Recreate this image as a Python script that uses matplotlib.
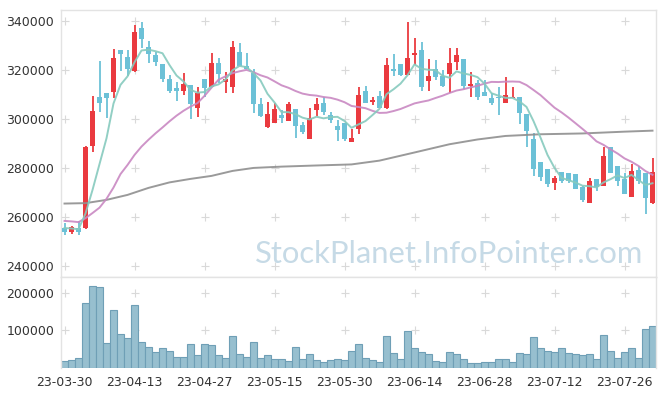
import matplotlib
matplotlib.use("Agg")
import matplotlib.pyplot as plt
import numpy as np

# ---------------- data ----------------
tick_idx = [0, 10, 20, 30, 40, 50, 60, 70, 80]
tick_labels = ["23-03-30", "23-04-13", "23-04-27", "23-05-15", "23-05-30",
               "23-06-14", "23-06-28", "23-07-12", "23-07-26"]

opens = [255400, 253800, 255400, 255700, 289100, 308900, 310400, 311100, 328100, 325200,
         319600, 336900, 329400, 325900, 322200, 316100, 312600, 311400, 313800, 304600,
         316300, 313100, 322700, 315200, 313100, 327300, 321600, 318800, 306100, 296800,
         298500, 301600, 299300, 304000, 297500, 291800, 303600, 306600, 301600, 297100,
         298500, 290700, 295800, 311400, 306800, 309500, 304600, 320300, 322400, 317900,
         326000, 328100, 315600, 320200, 317500, 318300, 323300, 324400, 313400, 314500,
         310800, 308400, 309100, 306600, 308400, 308800, 302000, 291700, 282300, 279500,
         274000, 278300, 278100, 277600, 272300, 265900, 275400, 272700, 288400, 280800,
         275400, 268300, 279000, 277900, 265900]
highs = [257500, 256400, 258400, 289000, 309300, 323600, 310600, 328500, 328100, 328100,
         338300, 339400, 331700, 327100, 322400, 317900, 315200, 318600, 313800, 313100,
         316300, 326700, 324700, 319200, 331700, 330800, 326700, 320200, 308400, 307000,
         306400, 303600, 306800, 304000, 298900, 304300, 308400, 309100, 302900, 299600,
         298500, 295800, 312900, 313400, 309100, 311400, 324700, 326300, 322400, 339400,
         332800, 331500, 324300, 324000, 319900, 328800, 329000, 324400, 319000, 315900,
         315900, 310400, 313100, 317000, 312900, 308800, 302000, 294100, 282300, 279500,
         276800, 278300, 278100, 277600, 272700, 275800, 275400, 288400, 288400, 280800,
         277900, 281800, 280800, 277900, 284000]
lows = [252700, 253000, 252700, 255000, 286600, 302900, 300300, 308600, 319500, 317500,
        319200, 328800, 322700, 321600, 314900, 310400, 307400, 309700, 299800, 300700,
        308800, 313100, 314500, 310700, 310400, 321600, 320200, 302500, 300700, 296200,
        298200, 298200, 299300, 292100, 293900, 291800, 301300, 301600, 298200, 291100,
        291000, 290700, 293900, 306400, 305700, 304600, 304000, 317600, 317500, 317900,
        322000, 311400, 311400, 315800, 313100, 310400, 319900, 312200, 309100, 307700,
        309300, 305700, 301600, 306600, 308400, 297900, 288700, 276800, 274800, 272400,
        271000, 274000, 273800, 271300, 266300, 265800, 270600, 272700, 277900, 272700,
        269400, 268300, 273500, 261300, 265300]
closes = [253800, 256000, 253700, 288400, 303100, 306600, 308600, 324700, 326400, 320300,
          335400, 332700, 326300, 323300, 316100, 311400, 311400, 314200, 306100, 310400,
          312700, 322700, 318400, 316100, 329200, 321600, 320200, 306100, 301200, 302000,
          304000, 300500, 306000, 297200, 294800, 300300, 306100, 302700, 299600, 295500,
          291800, 292200, 309700, 306400, 307700, 304600, 322000, 319600, 317900, 324900,
          326700, 313100, 317500, 317200, 313400, 322700, 326000, 313400, 314200, 308800,
          309500, 306400, 308400, 309700, 308800, 302300, 295200, 279500, 276100, 273400,
          275900, 274800, 274800, 271300, 267000, 274800, 272400, 284900, 277900, 274800,
          269400, 278800, 274500, 267800, 278300]
volumes = [18400, 21000, 26300, 171800, 217800, 215200, 66200, 153200, 90200, 79500,
           167300, 68900, 54800, 42300, 52100, 44900, 28200, 28200, 63600, 34300,
           63600, 60900, 34300, 26300, 84800, 37000, 28200, 68900, 26300, 33500,
           23700, 23700, 18400, 54800, 23700, 36200, 21000, 15700, 21000, 22900,
           20200, 44100, 62700, 25500, 20200, 14900, 84000, 38800, 22900, 97300,
           52100, 41500, 36200, 17600, 14900, 41500, 36200, 22900, 12200, 12200,
           14900, 14900, 22900, 22900, 14900, 38800, 36200, 81400, 52100, 44100,
           41500, 52100, 38800, 36200, 33500, 36200, 22900, 86700, 44100, 25500,
           41500, 52100, 25500, 102700, 110600]
ma5 = [255500, 255300, 255000, 261400,
       271000, 281560, 292080, 306280, 313880, 317320, 323080, 327900, 328220, 327600,
       326760, 321960, 317700, 315280, 311840, 310700, 310960, 313220, 314060, 316060,
       319820, 321600, 321100, 318640, 315660, 310220, 306700, 302760, 302740, 301940,
       300500, 299760, 300880, 300220, 300700, 300840, 299140, 296360, 297760, 299120,
       301560, 304120, 310080, 312060, 314360, 317800, 322220, 320440, 320020, 319880,
       317580, 316780, 319360, 318540, 317940, 317020, 314380, 310460, 309460, 308560,
       308560, 307120, 304880, 299100, 292380, 285300, 280020, 275940, 275000, 274040,
       272760, 272540, 272060, 274080, 275400, 276960, 275880, 277160, 275080, 273060,
       273760]
ma20 = [258400, 258200, 257900, 259500, 261600, 263800, 267400, 272000, 277500, 281200,
        285300, 288700, 291500, 294100, 296500, 299000, 301300, 303300, 305000,
        306445, 309390, 312725, 315960, 317345, 318650, 319400, 319980, 319050, 317790,
        316875, 315305, 313695, 312680, 311375, 310310, 309755, 309490, 308915, 308590,
        307845, 306800, 305275, 304840, 304355, 303280, 302430, 302520, 303195, 304030,
        305175, 306310, 306940, 307515, 308515, 309445, 310565, 311560, 312095, 312825,
        313490, 314375, 315085, 315020, 315185, 315240, 315125, 313785, 311780, 309690,
        307115, 304575, 302660, 300525, 298230, 295910, 293515, 290835, 289410, 287595,
        285895, 283890, 282510, 280815, 278720, 277195]
ma_long_idx = [0, 3, 6, 9, 12, 15, 18, 21, 24, 27, 31, 36, 41, 45, 50, 55, 59, 63, 68, 74, 80, 84]
ma_long = [265470, 265640, 266970, 269000, 271860, 274100, 275530, 276750, 278780, 280000,
           280530, 281000, 281430, 282980, 286300, 289660, 291600, 293040, 293730, 294060,
           294790, 295200]

main_yticks = [240000, 260000, 280000, 300000, 320000, 340000]
vol_yticks = [100000, 200000]

# ---------------- styling ----------------
RED = "#ea3a3f"
BLUE = "#6cc1d7"
TEAL = "#86cabe"
PINK = "#c988c2"
GRAY = "#8f8f8f"
FRAME = "#e3e3e3"
CROSS = "#d9d9d9"
TXT = "#333333"

W, H = 665, 396
fig = plt.figure(figsize=(W / 100, H / 100), dpi=100)
L, R = 61, 656
TOP, MID, BOT = 10, 277.3, 367.5
ax = fig.add_axes([L / W, 1 - MID / H, (R - L) / W, (MID - TOP) / H])
axv = fig.add_axes([L / W, 1 - BOT / H, (R - L) / W, (BOT - MID) / H], sharex=ax)

o = np.array(opens, float)
h = np.array(highs, float)
lo = np.array(lows, float)
c = np.array(closes, float)
x = np.arange(len(o))
cols = np.where(c >= o, RED, BLUE)

# grid crosses
for ax_, yts in ((ax, main_yticks), (axv, vol_yticks)):
    gx, gy = np.meshgrid(tick_idx, yts)
    ax_.scatter(gx.ravel(), gy.ravel(), marker="+", s=30, color=CROSS, linewidths=0.8, zorder=0)

ax.vlines(x, lo, h, colors=cols, lw=1.3, zorder=2)
ax.bar(x, np.maximum(np.abs(c - o), 300), bottom=np.minimum(o, c), width=0.72,
       color=cols, linewidth=0, zorder=3)

ax.plot(ma_long_idx, ma_long, color=GRAY, lw=1.4, alpha=0.9, zorder=4)
ax.plot(x, ma20, color=PINK, lw=1.4, alpha=0.9, zorder=4)
ax.plot(x, ma5, color=TEAL, lw=1.4, alpha=0.9, zorder=4)

axv.bar(x, volumes, width=1.0, color="#97bfcf", edgecolor="#6f9fb6", linewidth=0.8, zorder=2)

ax.set_xlim(-0.5, len(o) - 0.5)
ax.set_ylim(235400, 344400)
axv.set_ylim(0, 241000)

ax.set_yticks(main_yticks)
ax.set_yticklabels([str(v) for v in main_yticks])
axv.set_yticks(vol_yticks)
axv.set_yticklabels([str(v) for v in vol_yticks])
axv.set_xticks(tick_idx)
axv.set_xticklabels(tick_labels)
ax.tick_params(axis="x", labelbottom=False, length=0)
for a in (ax, axv):
    a.tick_params(axis="y", length=0, pad=5, labelsize=9, labelcolor=TXT)
    for s in a.spines.values():
        s.set_color(FRAME)
        s.set_linewidth(1.0)
axv.tick_params(axis="x", length=0, pad=6, labelsize=9, labelcolor=TXT)
axv.spines["bottom"].set_visible(False)

fig.text(449 / W, 1 - 254 / H, "StockPlanet.InfoPointer.com", ha="center", va="center",
         fontsize=22.3, color="#c6dae6", family="Lato", zorder=10)

fig.savefig("out.png", dpi=100)
